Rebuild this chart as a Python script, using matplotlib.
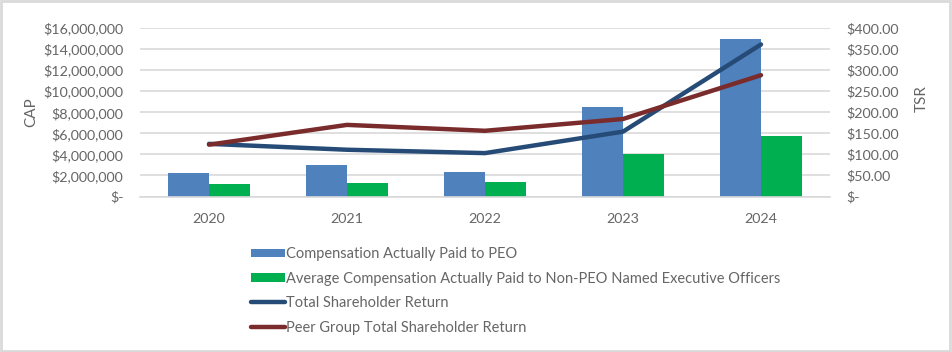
import matplotlib
matplotlib.use("Agg")
import matplotlib.pyplot as plt
import numpy as np
from matplotlib.ticker import FuncFormatter, MultipleLocator
from matplotlib.patches import Rectangle

years = ["2020", "2021", "2022", "2023", "2024"]
cap_peo = [2210000, 3000000, 2360000, 8500000, 14970000]
cap_neo = [1190000, 1310000, 1410000, 4020000, 5760000]
tsr = [125, 111, 103, 154, 361]
peer_tsr = [123, 170, 156, 184, 288]

labels = ["Compensation Actually Paid to PEO",
          "Average Compensation Actually Paid to Non-PEO Named Executive Officers",
          "Total Shareholder Return",
          "Peer Group Total Shareholder Return"]

plt.rcParams['font.family'] = ['Lato', 'DejaVu Sans']
txt = '#666666'
c_peo = '#4F81BD'
c_neo = '#00B050'
c_tsr = '#254B76'
c_peer = '#7A2B2B'

fig = plt.figure(figsize=(9.52, 3.52), dpi=100)
ax = fig.add_axes([140/952, 1-196.5/352, 690/952, 168.5/352])
x = np.arange(len(years))
w = 0.297
b1 = ax.bar(x - w/2, cap_peo, width=w, color=c_peo, zorder=2)
b2 = ax.bar(x + w/2, cap_neo, width=w, color=c_neo, zorder=2)
ax.set_xlim(-0.5, len(years) - 0.5)
ax.set_ylim(0, 16000000)
ax.yaxis.set_major_locator(MultipleLocator(2000000))

def fmt_cap(v, p):
    if v == 0:
        return "$-"
    return "${:,.0f}".format(v)
ax.yaxis.set_major_formatter(FuncFormatter(fmt_cap))
ax.grid(axis='y', color='#d9d9d9', linewidth=1.2, zorder=0)
ax.set_axisbelow(True)
for s in ax.spines.values():
    s.set_visible(False)
ax.spines['bottom'].set_visible(True)
ax.spines['bottom'].set_color('#d9d9d9')
ax.spines['bottom'].set_linewidth(1.2)
ax.set_xticks(x)
ax.set_xticklabels(years)
ax.tick_params(axis='both', length=0, colors=txt, labelsize=10.3)
ax.tick_params(axis='x', pad=12)
ax.tick_params(axis='y', pad=12)
ax.set_ylabel("CAP", color=txt, fontsize=11)
ax.yaxis.set_label_coords((38-140)/690, 0.5)

ax2 = ax.twinx()
ax2.set_ylim(0, 400)
ax2.yaxis.set_major_locator(MultipleLocator(50))

def fmt_tsr(v, p):
    if v == 0:
        return "$-"
    return "${:,.2f}".format(v)
ax2.yaxis.set_major_formatter(FuncFormatter(fmt_tsr))
for s in ax2.spines.values():
    s.set_visible(False)
ax2.tick_params(axis='y', length=0, colors=txt, labelsize=10.3, pad=12)
ax2.set_ylabel("TSR", color=txt, fontsize=11)
ax2.yaxis.set_label_coords((915-140)/690, 0.58)
l1, = ax2.plot(x, tsr, color=c_tsr, linewidth=3.2, solid_capstyle='round', zorder=3)
l2, = ax2.plot(x, peer_tsr, color=c_peer, linewidth=3.2, solid_capstyle='round', zorder=4)

leg = fig.legend([b1, b2, l1, l2], labels, loc='upper left',
                 bbox_to_anchor=(238/952, 1-234/352), frameon=False,
                 fontsize=10.5, labelcolor=txt, handlelength=2.3,
                 handleheight=0.5, handletextpad=0.1, labelspacing=0.72)

fig.add_artist(Rectangle((0.001, 0.002), 0.997, 0.995, transform=fig.transFigure,
                         fill=False, edgecolor='#d9d9d9', linewidth=2))
fig.savefig("out.png", dpi=100, facecolor='white')
